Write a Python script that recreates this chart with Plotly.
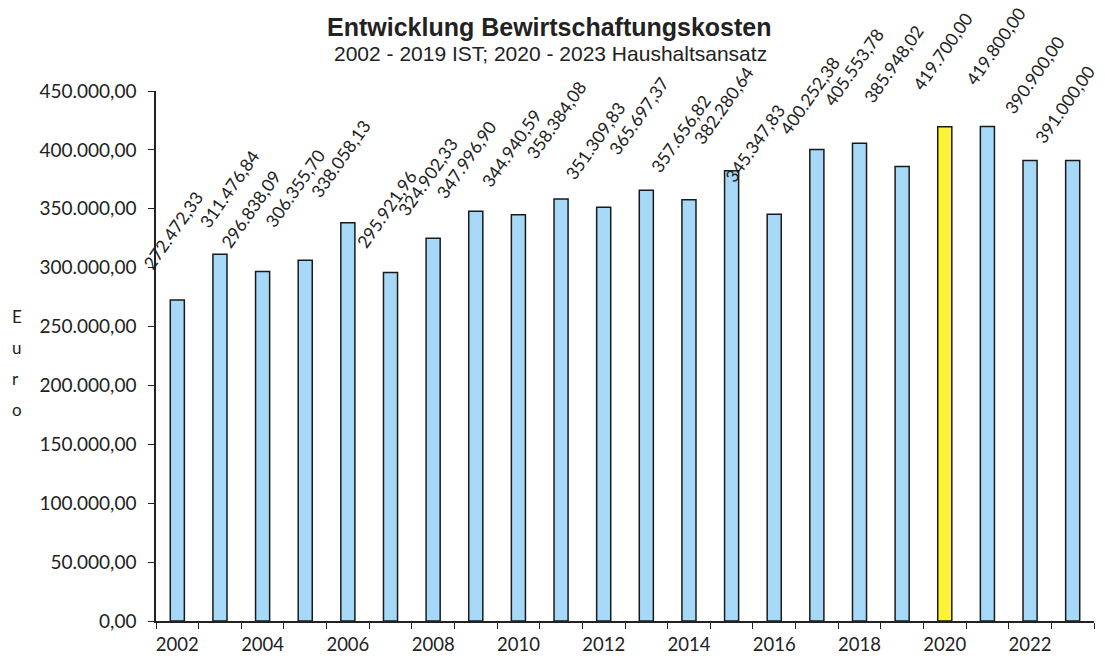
import plotly.graph_objects as go

years = list(range(2002, 2024))
values = [272472.33, 311476.84, 296838.09, 306355.70, 338058.13, 295921.96, 324902.33,
          347996.90, 344940.59, 358384.08, 351309.83, 365697.37, 357656.82, 382280.64,
          345347.83, 400252.38, 405553.78, 385948.02, 419700.00, 419800.00, 390900.00,
          391000.00]
highlight_year = 2020
title_text = "Entwicklung Bewirtschaftungskosten"
subtitle_text = "2002 - 2019 IST; 2020 - 2023 Haushaltsansatz"
axis_title = "Euro"

# label placement offsets (pixels), style only
label_dy = [24, 20, 17, 26, 19, 18, 16, 6, 21, 33, 21, 29, 21, 20, 25, 9, 31, 57, 30, 35, 40, 11]
label_dx = [-4, 10, -12, -10, -7, -4, -6, -9, -7, -5, -8, -8, -8, -8, -19, -7, -6, -9, -2, 8, 4, -8]

W, H = 1105, 656
ML, MR, MT, MB = 156, 11, 91, 35
PW, PH = W - ML - MR, H - MT - MB
INK = "#222"


def px_x(x):
    return (x - ML) / PW


def px_y(y):
    return (H - MB - y) / PH


def de_fmt(v):
    s = f"{v:,.2f}"
    return s.replace(",", "X").replace(".", ",").replace("X", ".")


colors = ["#FFF338" if y == highlight_year else "#A6D8F7" for y in years]

fig = go.Figure(go.Bar(
    x=years, y=values, width=0.33,
    marker=dict(color=colors, line=dict(color="#1a1a1a", width=1.5)),
    hoverinfo="skip",
))

annotations = []
for yr, v, dy, dx in zip(years, values, label_dy, label_dx):
    annotations.append(dict(
        x=yr, y=v, xref="x", yref="y", text=de_fmt(v), showarrow=False,
        textangle=-55, xanchor="center", yanchor="bottom", yshift=dy, xshift=dx,
        font=dict(family="Lato", size=17.5, color=INK),
    ))

annotations.append(dict(text=f"<b>{title_text}</b>", x=px_x(549), y=px_y(27),
                        xref="paper", yref="paper", showarrow=False, yanchor="middle",
                        font=dict(family="Liberation Sans", size=25, color=INK)))
annotations.append(dict(text=subtitle_text, x=px_x(550), y=px_y(53),
                        xref="paper", yref="paper", showarrow=False, yanchor="middle",
                        font=dict(family="Liberation Sans", size=21, color=INK)))
for i, ch in enumerate(axis_title):
    annotations.append(dict(text=ch, x=px_x(10), y=px_y(316 + 31 * i),
                            xref="paper", yref="paper", showarrow=False, yanchor="middle",
                            font=dict(family="Lato", size=17, color=INK)))

fig.update_layout(
    width=W, height=H, plot_bgcolor="white", paper_bgcolor="white",
    margin=dict(l=ML, r=MR, t=MT, b=MB), showlegend=False,
    separators=",.",
    font=dict(family="Lato", size=17, color=INK),
    annotations=annotations,
)

fig.update_xaxes(
    range=[2001.5, 2023.5], tick0=2002, dtick=2, tickformat="d", ticks="",
    showline=True, linecolor=INK, linewidth=1.5, showgrid=False, zeroline=False,
    minor=dict(tick0=2001.5, dtick=1, ticks="outside", ticklen=6, tickcolor=INK,
               showgrid=False),
    tickfont=dict(family="Lato", size=18.5, color=INK), ticklabelstandoff=6,
    automargin=False,
)
fig.update_yaxes(
    range=[0, 450000], dtick=50000, tickformat=",.2f", ticks="outside", ticklen=6,
    tickcolor=INK, showline=True, linecolor=INK, linewidth=1.5, showgrid=False,
    zeroline=False, tickfont=dict(family="Lato", size=19, color=INK),
    ticklabelstandoff=8, automargin=False,
)

fig.write_html("out.html", config={"displayModeBar": False},
               post_script="document.body.style.margin='0px';")
